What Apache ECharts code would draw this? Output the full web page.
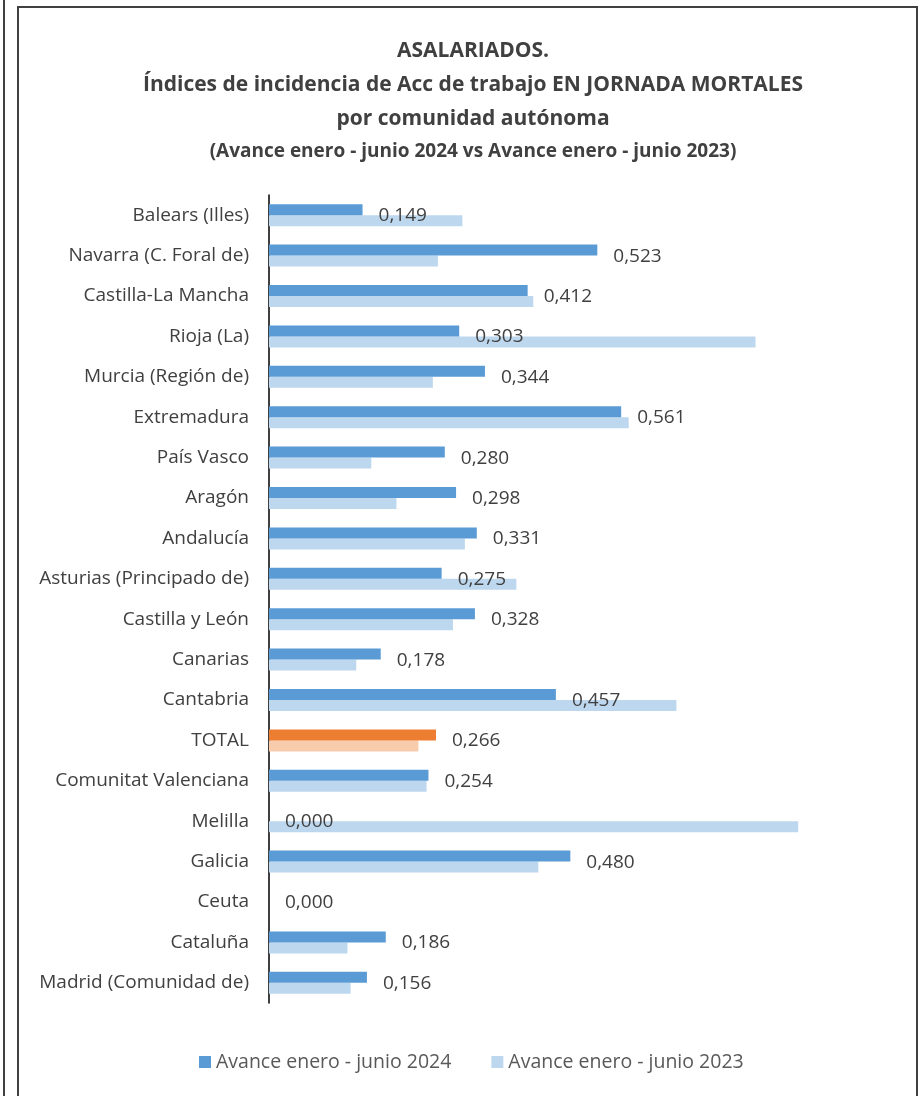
<!DOCTYPE html>
<html>
<head>
<meta charset="utf-8">
<script src="https://cdn.jsdelivr.net/npm/echarts@6/dist/echarts.min.js"></script>
<style>
  html, body { margin: 0; padding: 0; background: #fff; }
  #main { width: 924px; height: 1096px; }
</style>
</head>
<body>
<div id="main"></div>
<script>
// categories, top to bottom
var regions = [
  "Balears (Illes)", "Navarra (C. Foral de)", "Castilla-La Mancha", "Rioja (La)",
  "Murcia (Región de)", "Extremadura", "País Vasco", "Aragón", "Andalucía",
  "Asturias (Principado de)", "Castilla y León", "Canarias", "Cantabria", "TOTAL",
  "Comunitat Valenciana", "Melilla", "Galicia", "Ceuta", "Cataluña", "Madrid (Comunidad de)"
];
var values2024 = [0.149, 0.523, 0.412, 0.303, 0.344, 0.561, 0.280, 0.298, 0.331, 0.275,
  0.328, 0.178, 0.457, 0.266, 0.254, 0.000, 0.480, 0.000, 0.186, 0.156];
var values2023 = [0.308, 0.269, 0.421, 0.775, 0.261, 0.573, 0.163, 0.203, 0.312, 0.394,
  0.293, 0.139, 0.649, 0.238, 0.251, 0.843, 0.429, 0.000, 0.125, 0.130];
var seriesNames = ["Avance enero - junio 2024", "Avance enero - junio 2023"];

var FONT = "'Open Sans', sans-serif";

function withTotal(vals, totalColor) {
  return vals.map(function (v, i) {
    if (regions[i] === "TOTAL") return { value: v, itemStyle: { color: totalColor } };
    return v;
  });
}

var chart = echarts.init(document.getElementById("main"));
chart.setOption({
  backgroundColor: "#fff",
  animation: false,
  title: {
    text: "ASALARIADOS.\nÍndices de incidencia de Acc de trabajo EN JORNADA MORTALES\npor comunidad autónoma",
    subtext: "(Avance enero - junio 2024 vs Avance enero - junio 2023)",
    left: 468,
    textAlign: "center",
    top: 29,
    itemGap: 6,
    textStyle: { fontFamily: FONT, fontWeight: "bold", fontSize: 21, lineHeight: 34, color: "#404040" },
    subtextStyle: { fontFamily: FONT, fontWeight: "bold", fontSize: 19, color: "#404040" }
  },
  legend: {
    top: 1047,
    left: 194,
    itemWidth: 12,
    itemHeight: 12,
    itemGap: 40,
    icon: "rect",
    textStyle: { fontFamily: FONT, fontSize: 19.5, color: "#595959" },
    data: seriesNames
  },
  grid: { left: 269, top: 195, width: 565, height: 808 },
  xAxis: {
    type: "value",
    min: 0,
    max: 0.9,
    show: false
  },
  yAxis: {
    type: "category",
    inverse: true,
    data: regions,
    axisLine: { show: true, lineStyle: { color: "#000", width: 1.5 } },
    axisTick: { show: false },
    axisLabel: { fontFamily: FONT, fontSize: 19, color: "#404040", margin: 20 }
  },
  series: [
    {
      name: seriesNames[0],
      type: "bar",
      barWidth: 11,
      barGap: "0%",
      itemStyle: { color: "#5B9BD5" },
      data: withTotal(values2024, "#ED7D31"),
      label: {
        show: true,
        position: "right",
        distance: 16,
        offset: [0, 6],
        fontFamily: FONT,
        fontSize: 19,
        color: "#404040",
        formatter: function (p) { return p.value.toFixed(3).replace(".", ","); }
      },
      z: 3
    },
    {
      name: seriesNames[1],
      type: "bar",
      barWidth: 11,
      barGap: "0%",
      itemStyle: { color: "#BDD7EE" },
      data: withTotal(values2023, "#F8CBAD"),
      z: 2
    }
  ],
  graphic: [
    { type: "rect", shape: { x: 18, y: 7, width: 899, height: 1100 }, style: { fill: "none", stroke: "#404040", lineWidth: 2 } },
    { type: "line", shape: { x1: 4, y1: 0, x2: 4, y2: 1096 }, style: { stroke: "#404040", lineWidth: 2 } }
  ]
});
</script>
</body>
</html>
